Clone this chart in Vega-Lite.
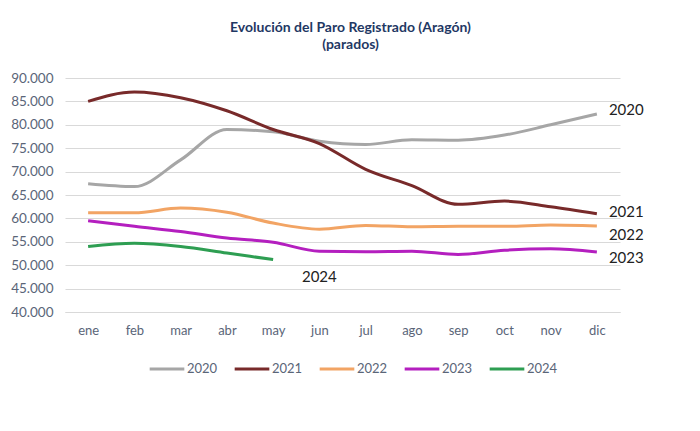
{
  "$schema": "https://vega.github.io/schema/vega-lite/v6.json",
  "autosize": "none",
  "width": 555,
  "height": 234,
  "padding": {"left": 65, "top": 78, "right": 80, "bottom": 119},
  "background": "white",
  "title": {
    "text": ["Evolución del Paro Registrado (Aragón)", "(parados)"],
    "font": "Lato",
    "fontSize": 14,
    "fontWeight": "bold",
    "color": "#1F3864",
    "anchor": "middle",
    "offset": 19,
    "dx": 8,
    "lineHeight": 17
  },
  "datasets": {
    "paro": [
      {"serie": "2020", "mes": "ene", "parados": 67400},
      {"serie": "2020", "mes": "feb", "parados": 66800},
      {"serie": "2020", "mes": "mar", "parados": 72500},
      {"serie": "2020", "mes": "abr", "parados": 79000},
      {"serie": "2020", "mes": "may", "parados": 78500},
      {"serie": "2020", "mes": "jun", "parados": 76500},
      {"serie": "2020", "mes": "jul", "parados": 75800},
      {"serie": "2020", "mes": "ago", "parados": 76800},
      {"serie": "2020", "mes": "sep", "parados": 76700},
      {"serie": "2020", "mes": "oct", "parados": 77800},
      {"serie": "2020", "mes": "nov", "parados": 80000},
      {"serie": "2020", "mes": "dic", "parados": 82300},
      {"serie": "2021", "mes": "ene", "parados": 85000},
      {"serie": "2021", "mes": "feb", "parados": 87000},
      {"serie": "2021", "mes": "mar", "parados": 85800},
      {"serie": "2021", "mes": "abr", "parados": 83000},
      {"serie": "2021", "mes": "may", "parados": 79000},
      {"serie": "2021", "mes": "jun", "parados": 76000},
      {"serie": "2021", "mes": "jul", "parados": 70500},
      {"serie": "2021", "mes": "ago", "parados": 67000},
      {"serie": "2021", "mes": "sep", "parados": 63000},
      {"serie": "2021", "mes": "oct", "parados": 63700},
      {"serie": "2021", "mes": "nov", "parados": 62500},
      {"serie": "2021", "mes": "dic", "parados": 61000},
      {"serie": "2022", "mes": "ene", "parados": 61200},
      {"serie": "2022", "mes": "feb", "parados": 61200},
      {"serie": "2022", "mes": "mar", "parados": 62200},
      {"serie": "2022", "mes": "abr", "parados": 61300},
      {"serie": "2022", "mes": "may", "parados": 59000},
      {"serie": "2022", "mes": "jun", "parados": 57700},
      {"serie": "2022", "mes": "jul", "parados": 58500},
      {"serie": "2022", "mes": "ago", "parados": 58200},
      {"serie": "2022", "mes": "sep", "parados": 58300},
      {"serie": "2022", "mes": "oct", "parados": 58300},
      {"serie": "2022", "mes": "nov", "parados": 58600},
      {"serie": "2022", "mes": "dic", "parados": 58400},
      {"serie": "2023", "mes": "ene", "parados": 59500},
      {"serie": "2023", "mes": "feb", "parados": 58300},
      {"serie": "2023", "mes": "mar", "parados": 57200},
      {"serie": "2023", "mes": "abr", "parados": 55800},
      {"serie": "2023", "mes": "may", "parados": 54900},
      {"serie": "2023", "mes": "jun", "parados": 53000},
      {"serie": "2023", "mes": "jul", "parados": 52900},
      {"serie": "2023", "mes": "ago", "parados": 53000},
      {"serie": "2023", "mes": "sep", "parados": 52300},
      {"serie": "2023", "mes": "oct", "parados": 53200},
      {"serie": "2023", "mes": "nov", "parados": 53500},
      {"serie": "2023", "mes": "dic", "parados": 52800},
      {"serie": "2024", "mes": "ene", "parados": 54000},
      {"serie": "2024", "mes": "feb", "parados": 54700},
      {"serie": "2024", "mes": "mar", "parados": 54000},
      {"serie": "2024", "mes": "abr", "parados": 52600},
      {"serie": "2024", "mes": "may", "parados": 51200}
    ],
    "etiquetas": [
      {"serie": "2020", "mes": "dic", "parados": 83200},
      {"serie": "2021", "mes": "dic", "parados": 61400},
      {"serie": "2022", "mes": "dic", "parados": 56500},
      {"serie": "2023", "mes": "dic", "parados": 51600},
      {"serie": "2024", "mes": "jun", "parados": 47400}
    ]
  },
  "encoding": {
    "x": {
      "field": "mes", "type": "nominal",
      "sort": ["ene","feb","mar","abr","may","jun","jul","ago","sep","oct","nov","dic"],
      "scale": {"type": "point", "padding": 0.5},
      "axis": {
        "title": null, "grid": false, "ticks": false, "domain": true,
        "domainColor": "#D9D9D9", "labelAngle": 0, "labelPadding": 12,
        "labelFont": "Lato", "labelFontSize": 13, "labelColor": "#5A6578"
      }
    },
    "y": {
      "field": "parados", "type": "quantitative",
      "scale": {"domain": [40000, 90000], "nice": false, "zero": false},
      "axis": {
        "title": null, "values": [40000,45000,50000,55000,60000,65000,70000,75000,80000,85000,90000],
        "labelExpr": "replace(format(datum.value, ','), ',', '.')",
        "labelOverlap": false,
        "domain": false, "ticks": false, "grid": true, "gridColor": "#D9D9D9", "labelPadding": 12,
        "labelFont": "Lato", "labelFontSize": 13.5, "labelColor": "#5A6578"
      }
    }
  },
  "layer": [
    {
      "data": {"name": "paro"},
      "mark": {"type": "line", "interpolate": "monotone", "strokeWidth": 3},
      "encoding": {
        "color": {
          "field": "serie", "type": "nominal",
          "scale": {"domain": ["2020","2021","2022","2023","2024"],
                    "range": ["#A6A6A6","#782A2A","#F2A464","#B41FBF","#2E9E52"]},
          "legend": {
            "title": null, "orient": "none", "direction": "horizontal",
            "legendX": 83, "legendY": 272,
            "symbolType": "stroke", "symbolStrokeWidth": 3, "symbolSize": 1200,
            "labelFont": "Lato", "labelFontSize": 13, "labelColor": "#5A6578",
            "columnPadding": 10, "labelOffset": 1
          }
        }
      }
    },
    {
      "data": {"name": "etiquetas"},
      "transform": [{"filter": "datum.serie != '2024'"}],
      "mark": {"type": "text", "align": "left", "baseline": "middle", "dx": 12,
               "font": "Lato", "fontSize": 15, "color": "#222222"},
      "encoding": {
        "text": {"field": "serie"}
      }
    },
    {
      "data": {"name": "etiquetas"},
      "transform": [{"filter": "datum.serie == '2024'"}],
      "mark": {"type": "text", "align": "center", "baseline": "middle",
               "font": "Lato", "fontSize": 15, "color": "#222222"},
      "encoding": {
        "text": {"field": "serie"}
      }
    }
  ],
  "config": {"view": {"stroke": null}}
}
